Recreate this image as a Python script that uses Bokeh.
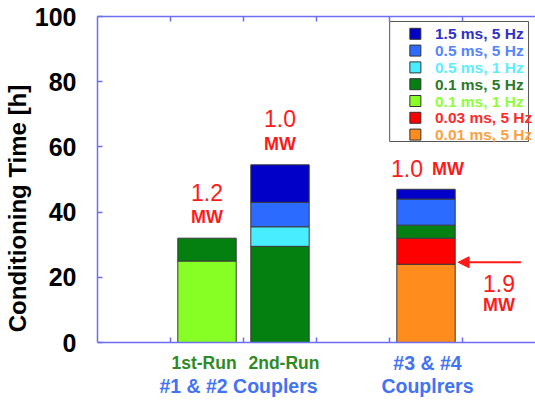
from bokeh.plotting import figure
from bokeh.models import ColumnDataSource, Range1d, LinearAxis, FixedTicker, Arrow, NormalHead
from bokeh.embed import file_html
from bokeh.resources import INLINE
from bokeh.core.properties import value

# ---- data -------------------------------------------------------------
groups = ["1st-Run", "2nd-Run", "#3 & #4"]
group_line2 = ["#1 & #2 Couplers", "#1 & #2 Couplers", "Couplrers"]

# stacking order, bottom to top
series = ["0.01 ms, 5 Hz", "0.03 ms, 5 Hz", "0.1 ms, 1 Hz", "0.1 ms, 5 Hz",
          "0.5 ms, 1 Hz", "0.5 ms, 5 Hz", "1.5 ms, 5 Hz"]
hours_001ms_5hz = [0, 0, 24]
hours_003ms_5hz = [0, 0, 8]
hours_01ms_1hz = [25, 0, 0]
hours_01ms_5hz = [7, 29.5, 4]
hours_05ms_1hz = [0, 6, 0]
hours_05ms_5hz = [0, 7.5, 8]
hours_15ms_5hz = [0, 11.5, 3]
hours = [hours_001ms_5hz, hours_003ms_5hz, hours_01ms_1hz, hours_01ms_5hz,
         hours_05ms_1hz, hours_05ms_5hz, hours_15ms_5hz]

power_mw = ["1.2", "1.0", "1.0"]
peak_power_mw = "1.9"

y_ticks = [0, 20, 40, 60, 80, 100]
slot_ticks = [1, 2, 3, 4, 5]

# ---- styling ----------------------------------------------------------
FONT = "Liberation Sans"
AXIS_BLUE = "#6e6ef2"
RED = "#ff1a1a"
fill_colors = ["#ff8c1c", "#ff0000", "#88ff24", "#038010",
               "#48eeff", "#2b6bff", "#0000c8"]
text_colors = ["#ffa040", "#ff2a2a", "#8cff3a", "#2a7a2a",
               "#5aeeff", "#5585ff", "#3030c8"]

# ---- geometry: the frame runs to the bottom of the page so the category
# captions can sit below the zero line; the x axis is pinned at y = 0 ----
W, H = 535, 400
BORDER_L, BORDER_T = 95, 16
ZERO_PX = 342                      # canvas row of y = 0
Y_TOP = 100
PX_PER_Y = (ZERO_PX - BORDER_T) / Y_TOP
X0, X1 = 0, 6
Y0 = -(H - ZERO_PX) / PX_PER_Y
FRAME_W = W - BORDER_L


def px_x(px):
    """canvas x pixel -> data x"""
    return X0 + (px - BORDER_L) * (X1 - X0) / FRAME_W


def px_y(px):
    """canvas y pixel -> data y"""
    return (ZERO_PX - px) / PX_PER_Y


def dx(px):
    return px * (X1 - X0) / FRAME_W


def dy(px):
    return px / PX_PER_Y


# slot of each group along the x axis (slot 3 is left empty)
slots = [1, 2, 4]
centers = [s + 0.5 for s in slots]
BAR_W = 0.8

p = figure(width=W, height=H, x_range=Range1d(X0, X1), y_range=Range1d(Y0, Y_TOP),
           output_backend="svg", toolbar_location=None, x_axis_location=None,
           min_border_left=BORDER_L, min_border_right=0,
           min_border_top=BORDER_T, min_border_bottom=0)
p.outline_line_color = None
p.grid.visible = False
p.background_fill_color = "white"
p.border_fill_color = "white"

axis_kw = dict(minor_tick_line_color=None,
               axis_line_color=AXIS_BLUE, major_tick_line_color=AXIS_BLUE,
               axis_line_width=1.5, major_tick_line_width=1.5)
blank_labels = {t: "" for t in slot_ticks}

# top frame line, ticks pointing down
top = LinearAxis(ticker=FixedTicker(ticks=slot_ticks), major_tick_in=5,
                 major_tick_out=0, major_label_overrides=blank_labels,
                 major_label_text_font_size="1px", major_label_standoff=0, **axis_kw)
p.add_layout(top, "above")

# base line pinned at y = 0, ticks pointing up
base = LinearAxis(ticker=FixedTicker(ticks=slot_ticks), fixed_location=0,
                  major_tick_in=0, major_tick_out=5, major_label_overrides=blank_labels,
                  major_label_text_font_size="1px", major_label_standoff=0, **axis_kw)
p.add_layout(base, "above")

for ax in p.yaxis:
    ax.ticker = FixedTicker(ticks=y_ticks)
    ax.bounds = (0, Y_TOP)
    ax.major_tick_in = 5
    ax.major_tick_out = 0
    for k, v in axis_kw.items():
        setattr(ax, k, v)
    ax.major_label_text_font = FONT
    ax.major_label_text_font_size = "25px"
    ax.major_label_text_font_style = "bold"
    ax.major_label_text_color = "black"
    ax.major_label_standoff = 21
    ax.axis_label = "Conditioning Time [h]"
    ax.axis_label_text_font = FONT
    ax.axis_label_text_font_size = "24px"
    ax.axis_label_text_font_style = "bold"
    ax.axis_label_text_color = "black"
    ax.axis_label_standoff = 1

# ---- stacked bars -----------------------------------------------------
seg = dict(x=[], bottom=[], top=[], color=[])
totals = []
for gi, cx in enumerate(centers):
    cum = 0.0
    for si, vals in enumerate(hours):
        h = vals[gi]
        if h > 0:
            seg["x"].append(cx)
            seg["bottom"].append(cum)
            seg["top"].append(cum + h)
            seg["color"].append(fill_colors[si])
            cum += h
    totals.append(cum)

p.vbar(x="x", width=BAR_W, bottom="bottom", top="top", fill_color="color",
       line_color="#3a3a3a", line_width=1, source=ColumnDataSource(seg))

# ---- power labels above bars -------------------------------------------
num_style = dict(text_font=value(FONT), text_font_size="23px", text_color=RED,
                 text_baseline="middle")
mw_style = dict(text_font=value(FONT), text_font_size="18px", text_color=RED,
                text_font_style="bold", text_baseline="middle")

for gi in range(2):
    p.text(x=[centers[gi]], y=[totals[gi] + dy(46)], text=[power_mw[gi]],
           text_align="center", **num_style)
    p.text(x=[centers[gi]], y=[totals[gi] + dy(21)], text=["MW"],
           text_align="center", **mw_style)

p.text(x=[centers[2] - dx(3)], y=[totals[2] + dy(21)], text=[power_mw[2]],
       text_align="right", **num_style)
p.text(x=[centers[2] + dx(6)], y=[totals[2] + dy(20)], text=["MW"],
       text_align="left", **mw_style)

# peak power pointer at the top of the 0.01 ms segment of the last bar
base_top = hours_001ms_5hz[2] + dy(2)
p.add_layout(Arrow(x_start=centers[2] + 1.3, y_start=base_top,
                   x_end=centers[2] + BAR_W / 2 + 0.04, y_end=base_top,
                   line_color=RED, line_width=2,
                   end=NormalHead(size=11, fill_color=RED, line_color=RED)))
p.text(x=[centers[2] + 1.0], y=[base_top - dy(21)], text=[peak_power_mw],
       text_align="center", **num_style)
p.text(x=[centers[2] + 1.0], y=[base_top - dy(43)], text=["MW"],
       text_align="center", **mw_style)

# ---- legend (drawn by hand so each entry keeps its own text colour) ----
lg_left, lg_right = px_x(388.5), px_x(528)
lg_top, lg_bottom = px_y(21), px_y(141)
p.quad(left=[lg_left], right=[lg_right], top=[lg_top], bottom=[lg_bottom],
       fill_color="white", line_color="#555555", line_width=1)

order = list(range(len(series)))[::-1]
row_y = [lg_top - dy(12.3 + 16.8 * i) for i in range(len(order))]
leg = ColumnDataSource(dict(
    y=row_y,
    label=[series[i] for i in order],
    fill=[fill_colors[i] for i in order],
    tcol=[text_colors[i] for i in order],
))
p.scatter(x=px_x(414.3), y="y", marker="square", size=11, fill_color="fill",
          line_color="#333333", line_width=1, source=leg)
p.text(x=px_x(434), y="y", text="label", text_color="tcol",
       text_font=value(FONT), text_font_size="15.5px", text_font_style="bold",
       text_baseline="middle", source=leg)

# ---- category captions below the zero line -----------------------------
GREEN_TXT = "#2f8a26"
BLUE_TXT = "#4272f5"
cap_style = dict(text_font=value(FONT), text_font_style="bold",
                 text_align="center", text_baseline="middle")
p.text(x=[centers[0] - dx(3), centers[1] + dx(4)], y=[px_y(362)] * 2,
       text=groups[:2], text_color=GREEN_TXT, text_font_size="17.5px", **cap_style)
p.text(x=[(centers[0] + centers[1]) / 2 - dx(5)], y=[px_y(385)],
       text=[group_line2[0]], text_color=BLUE_TXT, text_font_size="19.5px", **cap_style)
p.text(x=[centers[2] + dx(1.5), centers[2] + dx(1.5)], y=[px_y(362), px_y(385)],
       text=[groups[2], group_line2[2]], text_color=BLUE_TXT,
       text_font_size="19.5px", **cap_style)

open("out.html", "w").write(file_html(p, INLINE))
